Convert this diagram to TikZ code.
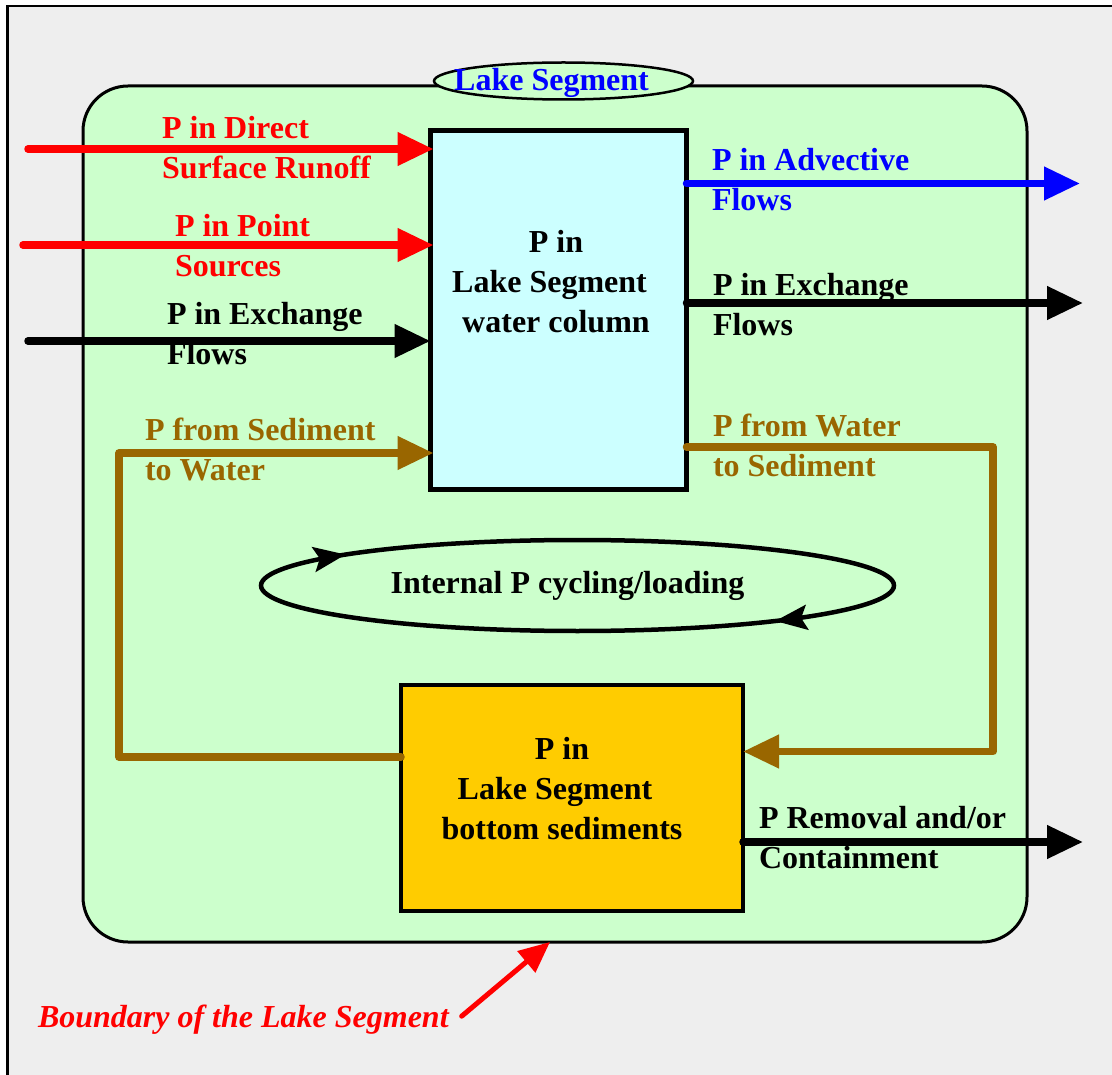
\documentclass[tikz,border=0pt]{standalone}
\usepackage{fontspec}
\setmainfont{Liberation Serif}
\usetikzlibrary{arrows.meta,shapes.geometric,decorations.markings}

\definecolor{panelgray}{HTML}{EEEEEE}
\definecolor{lakegreen}{HTML}{CCFFCC}
\definecolor{watercyan}{HTML}{CCFFFF}
\definecolor{sedgold}{HTML}{FFCC00}
\definecolor{sedbrown}{HTML}{996600}

\newcommand\lblfont{\fontsize{32}{40}\selectfont\bfseries}
% two left-aligned lines, baseline on the first line
\newcommand\twolines[2]{\begin{tabular}[t]{@{}l@{}}#1\\#2\end{tabular}}
% three centred lines, baseline on the first line
\newcommand\boxlines[3]{\begin{tabular}[t]{@{}c@{}}#1\\#2\\#3\end{tabular}}

\begin{document}
\begin{tikzpicture}[x=1pt,y=-1pt,
  lbl/.style={font=\lblfont, inner sep=0pt, outer sep=0pt, anchor=base west},
  flow/.style={line width=7.5pt, line cap=round, line join=round,
               -{Triangle[length=36pt,width=32pt]}},
  stockbox/.style={draw, line width=4.5pt, inner sep=0pt, outer sep=0pt},
  cyctip/.style={}]
\useasboundingbox (0,0) rectangle (1112,1075);

% panel background and frame
\fill[panelgray] (7.5,6) rectangle (1130,1090);
\draw[line width=2.5pt] (7.5,1090) -- (7.5,6) -- (1130,6);

% lake segment boundary
\node[draw, line width=3pt, fill=lakegreen, rounded corners=45pt,
      minimum width=944pt, minimum height=856pt, inner sep=0pt, outer sep=0pt]
      (seg) at (555,514) {};
\node[draw, ellipse, line width=2.5pt, fill=lakegreen, minimum width=259pt,
      minimum height=37pt, inner sep=0pt] (ttl) at (563.5,81) {};
\node[lbl, anchor=base, blue] (ttlLab) at (551.5,90.7) {Lake Segment};

% stocks
\node[stockbox, fill=watercyan, minimum width=256pt, minimum height=359pt]
      (wc) at (558.5,310) {};
\node[stockbox, fill=sedgold, minimum width=342pt, minimum height=226pt]
      (sed) at (572,798) {};
\node[lbl, anchor=base] (wcLab) at (556,253)
      {\boxlines{P in}{Lake Segment\hspace*{13pt}}{water column}};
\node[lbl, anchor=base] (sedLab) at (562,759)
      {\boxlines{P in}{Lake Segment\hspace*{14pt}}{bottom sediments}};

% internal cycling loop
\coordinate (cyc) at (577.5,585.5);
\draw[line width=4.5pt, postaction=decorate, decoration={markings,
      mark=at position 0.4285 with {\arrowreversed{Stealth[length=32pt,width=25pt,inset=6pt]}},
      mark=at position 0.902 with {\arrowreversed{Stealth[length=32pt,width=25pt,inset=6pt]}}}]
      (cyc) ellipse [x radius=316.5pt, y radius=45.5pt];
\node[lbl, anchor=base] (cycLab) at (567.5,593) {Internal P cycling/loading};

% external inputs
\coordinate (inA) at (28,149);
\coordinate (inB) at (23,245);
\coordinate (inC) at (28,341);
\draw[flow, red] (inA) -- ([xshift=3pt]inA -| wc.west);
\draw[flow, red] (inB) -- ([xshift=3pt]inB -| wc.west);
\draw[flow] (inC) -- (inC -| wc.west);

% outputs
\coordinate (outA) at (1080,183.5);
\coordinate (outB) at (1083,303);
\coordinate (outC) at (1083,842);
\draw[flow, blue] (outA -| wc.east) -- (outA);
\draw[flow] (outB -| wc.east) -- (outB);
\draw[flow] (outC -| sed.east) -- (outC);

% exchange between water and sediment
\coordinate (wsTop) at (993,447);
\coordinate (wsBot) at (993,751.5);
\draw[flow, sedbrown] (wc.east |- wsTop) -- (wsTop) -- (wsBot) -- (wsBot -| sed.east);
\coordinate (swBot) at (119,757);
\coordinate (swTop) at (119,453);
\draw[flow, sedbrown] (sed.west |- swBot) -- (swBot) -- (swTop) -- ([xshift=3pt]swTop -| wc.west);

% flow labels
\node[lbl, red] (lDirect) at (162,139) {\twolines{P in Direct}{Surface Runoff}};
\node[lbl, red] (lPoint) at (175,237) {\twolines{P in Point}{Sources}};
\node[lbl] (lExIn) at (167,325) {\twolines{P in Exchange}{Flows}};
\node[lbl, sedbrown] (lSedW) at (145,440) {\twolines{P from Sediment}{to Water}};
\node[lbl, blue] (lAdv) at (712,171) {\twolines{P in Advective}{Flows}};
\node[lbl] (lExOut) at (713,296) {\twolines{P in Exchange}{Flows}};
\node[lbl, sedbrown] (lWS) at (713,436) {\twolines{P from Water}{to Sediment}};
\node[lbl] (lRem) at (759,828) {\twolines{P Removal and/or}{Containment}};

% boundary annotation
\node[lbl, red, font=\lblfont\itshape] (bLab) at (38,1027) {Boundary of the Lake Segment};
\draw[line width=5pt, red, line cap=round, -{Triangle[length=31pt,width=27pt]}]
      ([xshift=13pt,yshift=3pt]bLab.east) -- ([xshift=-5pt]seg.south);
\end{tikzpicture}
\end{document}
